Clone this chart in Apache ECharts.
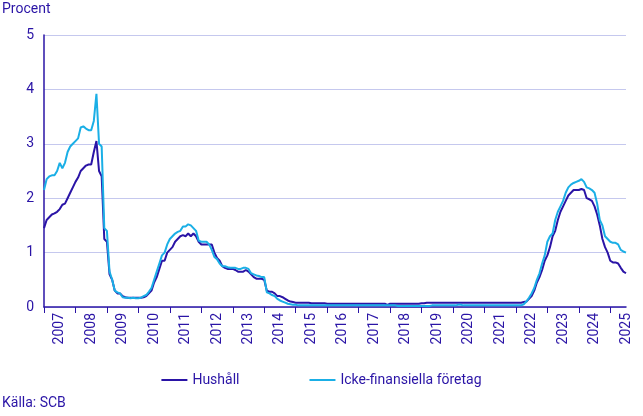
<!DOCTYPE html><html><head><meta charset="utf-8"><script src="https://cdn.jsdelivr.net/npm/echarts@6/dist/echarts.min.js"></script></head><body style="margin:0"><div id="c" style="width:643px;height:416px"></div><script>
const years=[];for(let y=2007;y<=2025;y++)years.push(y);
const hushall=[
1.45,1.6,1.65,1.7,1.72,1.75,1.8,1.88,1.9,2.0,2.1,2.2,
2.3,2.38,2.5,2.55,2.6,2.62,2.62,2.85,3.05,2.5,2.4,1.25,
1.2,0.6,0.5,0.3,0.25,0.25,0.2,0.18,0.17,0.17,0.17,0.17,
0.17,0.17,0.18,0.2,0.25,0.3,0.45,0.55,0.7,0.85,0.85,1.0,
1.05,1.1,1.2,1.25,1.3,1.32,1.3,1.35,1.3,1.35,1.3,1.2,
1.15,1.15,1.15,1.15,1.15,1.0,0.9,0.85,0.75,0.72,0.7,0.7,
0.7,0.68,0.65,0.65,0.65,0.68,0.65,0.6,0.55,0.52,0.52,0.52,
0.5,0.3,0.28,0.28,0.25,0.2,0.2,0.18,0.15,0.12,0.1,0.09,
0.08,0.08,0.08,0.08,0.08,0.08,0.07,0.07,0.07,0.07,0.07,0.07,
0.06,0.06,0.06,0.06,0.06,0.06,0.06,0.06,0.06,0.06,0.06,0.06,
0.06,0.06,0.06,0.06,0.06,0.06,0.06,0.06,0.06,0.06,0.06,0.04,
0.06,0.06,0.06,0.06,0.06,0.06,0.06,0.06,0.06,0.06,0.06,0.06,
0.07,0.07,0.08,0.08,0.08,0.08,0.08,0.08,0.08,0.08,0.08,0.08,
0.08,0.08,0.08,0.08,0.08,0.08,0.08,0.08,0.08,0.08,0.08,0.08,
0.08,0.08,0.08,0.08,0.08,0.08,0.08,0.08,0.08,0.08,0.08,0.08,
0.08,0.08,0.08,0.09,0.1,0.15,0.2,0.3,0.45,0.55,0.68,0.85,
0.95,1.1,1.3,1.4,1.6,1.75,1.85,1.95,2.05,2.1,2.15,2.15,
2.15,2.17,2.15,2.0,1.98,1.95,1.85,1.7,1.5,1.25,1.1,1.0,
0.85,0.82,0.82,0.8,0.72,0.65,0.62];
const foretag=[
2.15,2.35,2.4,2.42,2.42,2.5,2.65,2.55,2.65,2.85,2.95,3.0,
3.05,3.1,3.3,3.32,3.28,3.25,3.25,3.42,3.92,3.0,2.95,1.45,
1.4,0.65,0.5,0.3,0.27,0.25,0.18,0.17,0.17,0.16,0.17,0.16,
0.16,0.17,0.2,0.22,0.28,0.35,0.5,0.65,0.8,0.95,1.0,1.15,
1.25,1.3,1.35,1.38,1.4,1.48,1.48,1.52,1.5,1.45,1.4,1.22,
1.2,1.2,1.2,1.15,1.05,0.92,0.88,0.8,0.75,0.75,0.73,0.72,
0.72,0.72,0.7,0.7,0.72,0.72,0.7,0.62,0.6,0.58,0.57,0.55,
0.55,0.27,0.25,0.22,0.2,0.15,0.12,0.1,0.08,0.06,0.05,0.04,
0.04,0.03,0.03,0.03,0.03,0.03,0.03,0.03,0.03,0.03,0.03,0.03,
0.03,0.03,0.03,0.03,0.03,0.03,0.03,0.03,0.03,0.03,0.03,0.03,
0.03,0.03,0.03,0.03,0.03,0.03,0.03,0.03,0.03,0.03,0.03,0.03,
0.03,0.03,0.03,0.02,0.02,0.02,0.02,0.02,0.02,0.02,0.02,0.02,
0.02,0.02,0.02,0.02,0.03,0.03,0.03,0.03,0.03,0.03,0.03,0.03,
0.03,0.03,0.04,0.04,0.03,0.03,0.03,0.03,0.03,0.03,0.03,0.03,
0.03,0.03,0.03,0.03,0.03,0.03,0.03,0.03,0.03,0.03,0.03,0.03,
0.03,0.03,0.03,0.05,0.1,0.17,0.25,0.35,0.5,0.62,0.8,0.95,
1.2,1.3,1.35,1.6,1.75,1.85,1.95,2.1,2.2,2.25,2.28,2.3,
2.32,2.35,2.3,2.2,2.18,2.15,2.1,1.9,1.6,1.5,1.3,1.25,
1.2,1.18,1.18,1.15,1.05,1.02,1.0];
const months=hushall.map((_,i)=>String(years[Math.floor(i/12)])+'-'+String(i%12+1).padStart(2,'0'));
const dark='#2a14a6',light='#1aafe6',txt='#2a14a6';
const ch=echarts.init(document.getElementById('c'));
ch.setOption({
 animation:false,
 textStyle:{fontFamily:'Roboto'},
 grid:{left:44,right:17,top:35,bottom:109},
 graphic:[{type:'text',left:2,top:2,style:{text:'Procent',fill:txt,font:'14px Roboto'}},
  {type:'text',left:2,top:396,style:{text:'Källa: SCB',fill:txt,font:'14px Roboto'}}],
 legend:{bottom:24,left:'center',itemGap:70,itemWidth:26,icon:'rect',itemHeight:2,textStyle:{color:txt,fontSize:14},
   data:['Hushåll','Icke-finansiella företag']},
 xAxis:{type:'category',data:months,boundaryGap:false,
   axisLine:{lineStyle:{color:txt,width:1.5}},
   axisTick:{interval:(i)=>i%12===0,length:6,lineStyle:{color:txt}},
   axisLabel:{interval:(i)=>i%12===6,rotate:90,color:txt,fontSize:14,margin:6,formatter:v=>v.slice(0,4)}},
 yAxis:{type:'value',min:0,max:5,interval:1,
   axisLine:{show:true,lineStyle:{color:txt,width:1.5}},
   axisLabel:{color:txt,fontSize:14,margin:10},
   splitLine:{lineStyle:{color:'#c5c8ee'}}},
 series:[
  {name:'Hushåll',type:'line',data:hushall,showSymbol:false,lineStyle:{color:dark,width:2},itemStyle:{color:dark}},
  {name:'Icke-finansiella företag',type:'line',data:foretag,showSymbol:false,lineStyle:{color:light,width:2},itemStyle:{color:light}}
 ]});
</script></body></html>
